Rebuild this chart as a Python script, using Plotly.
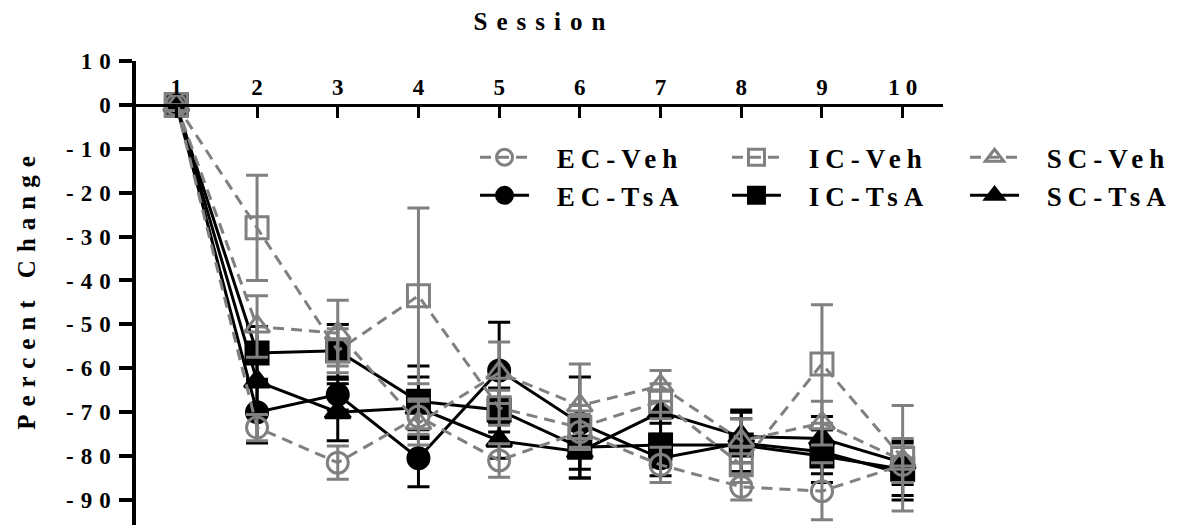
import plotly.graph_objects as go

sessions = [1, 2, 3, 4, 5, 6, 7, 8, 9, 10]
session_labels = ["1", "2", "3", "4", "5", "6", "7", "8", "9", "10"]
y_ticks = [10, 0, -10, -20, -30, -40, -50, -60, -70, -80, -90]

ec_veh = [0, -73.5, -81.5, -71, -81, -74.5, -82, -87, -88, -82]
ec_veh_err = [0, 3, 3.8, 4, 3.8, 4, 4, 3, 6.5, 4]
ic_veh = [0, -28, -56, -43.5, -69, -73.5, -67.5, -82, -59, -80.5]
ic_veh_err = [0, 12, 5, 20, 4, 5, 4, 4, 13.5, 12]
sc_veh = [0, -50.5, -52, -72.5, -61, -68.5, -64, -76.5, -72.5, -81]
sc_veh_err = [0, 7, 7.5, 5, 7, 9.5, 3.5, 5, 5, 5]
ec_tsa = [0, -70, -66, -80.5, -60.5, -72.5, -80.5, -77, -79, -84]
ec_tsa_err = [0, 7, 3.5, 6.5, 11, 10.5, 4, 7, 5, 6]
ic_tsa = [0, -56.5, -56, -67.5, -69.5, -78, -77.5, -77.5, -80, -83]
ic_tsa_err = [0, 6, 6, 8, 5, 7, 5, 6, 6, 6]
sc_tsa = [0, -63, -70, -69, -76.5, -79, -70, -75.5, -76, -81.5]
sc_tsa_err = [0, 8, 6.5, 7, 4, 6, 5, 6, 5, 5]

GRAY = "#808080"
FONT = "Liberation Serif"


def spaced(text, px):
    if len(text) < 2:
        return text
    return '<span style="letter-spacing:%dpx">%s</span>%s' % (px, text[:-1], text[-1])


def legend_name(text):
    return '<span style="letter-spacing:16px">\u00a0</span>' + spaced(text, 6)


series = [
    # name, y, err, symbol, color, dash, legendrank, legend id
    ("EC-TsA", ec_tsa, ec_tsa_err, "circle", "black", "solid", 2, "legend"),
    ("IC-TsA", ic_tsa, ic_tsa_err, "square", "black", "solid", 2, "legend2"),
    ("SC-TsA", sc_tsa, sc_tsa_err, "triangle-up", "black", "solid", 2, "legend3"),
    ("EC-Veh", ec_veh, ec_veh_err, "circle-open", GRAY, "11px,7px", 1, "legend"),
    ("IC-Veh", ic_veh, ic_veh_err, "square-open", GRAY, "11px,7px", 1, "legend2"),
    ("SC-Veh", sc_veh, sc_veh_err, "triangle-up-open", GRAY, "11px,7px", 1, "legend3"),
]

fig = go.Figure()
for name, y, err, sym, col, dash, rank, leg in series:
    size = 21 if sym.startswith("circle") else 22
    fig.add_trace(go.Scatter(
        x=sessions, y=y, name=legend_name(name), legendrank=rank, legend=leg,
        mode="lines+markers",
        line=dict(color=col, width=3, dash=dash),
        marker=dict(symbol=sym, size=size, color=col, line=dict(color=col, width=3)),
        error_y=dict(type="data", array=err, visible=True, color=col, thickness=3, width=11),
    ))

legend_font = dict(family=FONT, size=27, color="black", weight="bold")
legend_common = dict(
    orientation="v", xanchor="left", y=0.8444, yanchor="top",
    itemwidth=49, font=legend_font, bgcolor="rgba(0,0,0,0)",
    traceorder="normal", borderwidth=0,
)

fig.update_layout(
    width=1171, height=517,
    margin=dict(l=128, r=236, t=53, b=0, autoexpand=False),
    plot_bgcolor="white", paper_bgcolor="white",
    font=dict(family=FONT, color="black", weight="bold"),
    showlegend=True,
    legend=dict(x=0.4201, **legend_common),
    legend2=dict(x=0.7323, **legend_common),
    legend3=dict(x=1.0273, **legend_common),
    xaxis=dict(
        range=[0.5, 10.5], side="top", anchor="free", position=95.7 / 105.7,
        tickvals=sessions, ticktext=[spaced(t, 6) for t in session_labels],
        ticks="inside", ticklen=11, tickwidth=3, tickcolor="black",
        showline=True, linewidth=3, linecolor="black",
        showgrid=False, zeroline=False,
        tickfont=dict(family=FONT, size=23, color="black", weight="bold"),
        title=dict(text=spaced("Session", 9), standoff=38,
                   font=dict(family=FONT, size=25, color="black", weight="bold")),
    ),
    yaxis=dict(
        range=[-95.7, 10],
        tickvals=y_ticks, ticktext=[spaced(str(v), 7) for v in y_ticks],
        ticks="outside", ticklen=13, tickwidth=3.5, tickcolor="black",
        showline=True, linewidth=3.5, linecolor="black",
        showgrid=False, zeroline=False, ticklabelstandoff=4,
        tickfont=dict(family=FONT, size=23, color="black", weight="bold"),
        title=dict(text=spaced("Percent Change", 8), standoff=24,
                   font=dict(family=FONT, size=25, color="black", weight="bold")),
    ),
)

fig.write_html("out.html")
